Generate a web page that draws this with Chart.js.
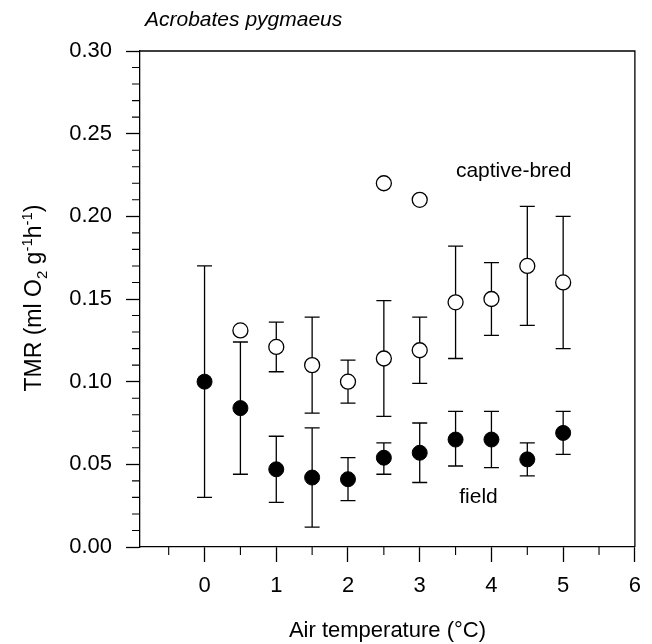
<!DOCTYPE html>
<html>
<head>
<meta charset="utf-8">
<script src="https://cdn.jsdelivr.net/npm/chart.js@4/dist/chart.umd.min.js"></script>
<style>
  html, body { margin: 0; padding: 0; background: #fff; }
  #wrap { width: 652px; height: 644px; }
</style>
</head>
<body>
<div id="wrap"><canvas id="myChart" width="652" height="644"></canvas></div>
<script>
// Air temperature (deg C) and TMR values
var fieldTemp = [0, 0.5, 1, 1.5, 2, 2.5, 3, 3.5, 4, 4.5, 5];
var fieldTmr  = [0.100, 0.084, 0.047, 0.042, 0.041, 0.054, 0.057, 0.065, 0.065, 0.053, 0.069];
var fieldLow  = [0.030, 0.044, 0.027, 0.012, 0.028, 0.044, 0.039, 0.049, 0.048, 0.043, 0.056];
var fieldHigh = [0.170, 0.124, 0.067, 0.072, 0.054, 0.063, 0.075, 0.082, 0.082, 0.063, 0.082];

var captiveTemp = [0.5, 1, 1.5, 2, 2.5, 2.5, 3, 3, 3.5, 4, 4.5, 5];
var captiveTmr  = [0.131, 0.121, 0.110, 0.100, 0.114, 0.220, 0.119, 0.210, 0.148, 0.150, 0.170, 0.160];
var captiveLow  = [null, 0.106, 0.081, 0.087, 0.079, null, 0.099, null, 0.114, 0.128, 0.134, 0.120];
var captiveHigh = [null, 0.136, 0.139, 0.113, 0.149, null, 0.139, null, 0.182, 0.172, 0.206, 0.200];

var xMajorTicks = [0, 1, 2, 3, 4, 5, 6];
var yMajorTicks = [0.00, 0.05, 0.10, 0.15, 0.20, 0.25, 0.30];

var FONT = '"Liberation Sans", Arial, Helvetica, sans-serif';

function toPoints(xs, ys) {
    return xs.map(function(x, i) { return { x: x, y: ys[i] }; });
}

// error bars, frame, minor ticks and text labels
var extras = {
    id: 'extras',
    beforeDatasetsDraw: function(chart) {
        var ctx = chart.ctx;
        var xs = chart.scales.x, ys = chart.scales.y;
        ctx.save();
        ctx.strokeStyle = '#000';
        ctx.lineWidth = 1.3;
        function bars(tx, lo, hi) {
            for (var i = 0; i < tx.length; i++) {
                if (lo[i] === null) continue;
                var px = xs.getPixelForValue(tx[i]);
                var p1 = ys.getPixelForValue(lo[i]);
                var p2 = ys.getPixelForValue(hi[i]);
                ctx.beginPath();
                ctx.moveTo(px, p1); ctx.lineTo(px, p2);
                ctx.moveTo(px - 7.5, p1); ctx.lineTo(px + 7.5, p1);
                ctx.moveTo(px - 7.5, p2); ctx.lineTo(px + 7.5, p2);
                ctx.stroke();
            }
        }
        bars(fieldTemp, fieldLow, fieldHigh);
        bars(captiveTemp, captiveLow, captiveHigh);
        ctx.restore();
    },
    afterDraw: function(chart) {
        var ctx = chart.ctx;
        var a = chart.chartArea;
        var xs = chart.scales.x, ys = chart.scales.y;
        ctx.save();
        ctx.strokeStyle = '#000';
        ctx.lineWidth = 1.3;
        // top and right frame
        ctx.beginPath();
        ctx.moveTo(a.left, a.top); ctx.lineTo(a.right, a.top); ctx.lineTo(a.right, a.bottom);
        ctx.stroke();
        // minor ticks
        ctx.lineWidth = 1.1;
        ctx.beginPath();
        for (var v = 1; v < 30; v++) {
            if (v % 5 === 0) continue;
            var py = ys.getPixelForValue(v / 100);
            ctx.moveTo(a.left - 8, py); ctx.lineTo(a.left, py);
        }
        for (var t = -0.5; t < 6; t += 1) {
            var px = xs.getPixelForValue(t);
            ctx.moveTo(px, a.bottom); ctx.lineTo(px, a.bottom + 8);
        }
        ctx.stroke();

        ctx.fillStyle = '#000';
        // series labels
        ctx.font = '21px ' + FONT;
        ctx.textAlign = 'center';
        ctx.textBaseline = 'middle';
        ctx.fillText('captive-bred', xs.getPixelForValue(4.31), ys.getPixelForValue(0.227));
        ctx.fillText('field', xs.getPixelForValue(3.82), ys.getPixelForValue(0.030));

        // species title
        ctx.font = 'italic 21px ' + FONT;
        ctx.textAlign = 'left';
        ctx.textBaseline = 'alphabetic';
        ctx.fillText('Acrobates pygmaeus', 145, 26);

        // y axis title with sub/superscripts
        ctx.translate(41, 298);
        ctx.rotate(-Math.PI / 2);
        var parts = [
            ['TMR (ml O', 0], ['2', 1], [' g', 0], ['-1', -1], ['h', 0], ['-1', -1], [')', 0]
        ];
        var total = 0;
        parts.forEach(function(p) {
            ctx.font = (p[1] === 0 ? '23px ' : '15px ') + FONT;
            total += ctx.measureText(p[0]).width;
        });
        var cx = -total / 2;
        parts.forEach(function(p) {
            ctx.font = (p[1] === 0 ? '23px ' : '15px ') + FONT;
            var dy = p[1] === 1 ? 6 : (p[1] === -1 ? -9 : 0);
            ctx.fillText(p[0], cx, dy);
            cx += ctx.measureText(p[0]).width;
        });
        ctx.restore();
    }
};

var ctx = document.getElementById('myChart').getContext('2d');

var myChart = new Chart(ctx, {
    type: 'scatter',
    data: {
        datasets: [{
            label: 'field',
            data: toPoints(fieldTemp, fieldTmr),
            backgroundColor: '#000',
            borderColor: '#000',
            borderWidth: 1,
            pointRadius: 7.5
        }, {
            label: 'captive-bred',
            data: toPoints(captiveTemp, captiveTmr),
            backgroundColor: '#fff',
            borderColor: '#000',
            borderWidth: 1.3,
            pointRadius: 7.5
        }]
    },
    options: {
        responsive: false,
        animation: false,
        layout: { padding: { top: 51, right: 17, left: 0, bottom: 0 } },
        plugins: {
            legend: { display: false },
            tooltip: { enabled: false }
        },
        scales: {
            x: {
                type: 'linear',
                min: -0.9,
                max: 6,
                afterFit: function(s) { s.height = 97; },
                afterBuildTicks: function(s) {
                    s.ticks = xMajorTicks.map(function(v) { return { value: v }; });
                },
                ticks: {
                    color: '#000',
                    font: { family: FONT, size: 22 },
                    padding: 11,
                    maxRotation: 0,
                    callback: function(v) { return String(v); }
                },
                grid: { drawOnChartArea: false, tickLength: 15, tickColor: '#000', tickWidth: 1.3 },
                border: { color: '#000', width: 1.3 },
                title: {
                    display: true,
                    text: 'Air temperature (\u00B0C)',
                    color: '#000',
                    font: { family: FONT, size: 22 },
                    padding: { top: 4, bottom: 0 }
                }
            },
            y: {
                min: 0,
                max: 0.3,
                afterFit: function(s) { s.width = 140; },
                afterBuildTicks: function(s) {
                    s.ticks = yMajorTicks.map(function(v) { return { value: v }; });
                },
                ticks: {
                    color: '#000',
                    font: { family: FONT, size: 22 },
                    padding: 14,
                    callback: function(v) { return Number(v).toFixed(2); }
                },
                grid: { drawOnChartArea: false, tickLength: 14, tickColor: '#000', tickWidth: 1.3 },
                border: { color: '#000', width: 1.3 }
            }
        }
    },
    plugins: [extras]
});
</script>
</body>
</html>
